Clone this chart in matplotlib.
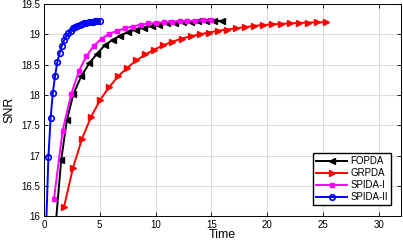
import matplotlib.pyplot as plt
from matplotlib.ticker import FuncFormatter

plt.rcParams['font.family'] = ['Liberation Sans', 'DejaVu Sans']

# SPIDA-II (blue, circles)
t_spida2 = [0.2, 0.4, 0.6, 0.8, 1.0, 1.2, 1.4, 1.6, 1.8, 2.0, 2.2, 2.4, 2.6,
            2.8, 3.0, 3.2, 3.4, 3.6, 3.8, 4.0, 4.2, 4.4, 4.6, 4.8, 5.0]
snr_spida2 = [15.83, 16.97, 17.62, 18.04, 18.32, 18.54, 18.69, 18.81, 18.90,
              18.97, 19.02, 19.06, 19.10, 19.12, 19.14, 19.16, 19.17, 19.18,
              19.19, 19.20, 19.205, 19.21, 19.215, 19.22, 19.22]

# SPIDA-I (magenta, squares)
t_spida1 = [0.9, 1.67, 2.45, 3.15, 3.8, 4.46, 5.16, 5.86, 6.56, 7.26, 7.96,
            8.66, 9.36, 10.06, 10.76, 11.46, 12.16, 12.86, 13.56, 14.26, 14.96]
snr_spida1 = [16.28, 17.41, 18.02, 18.40, 18.64, 18.81, 18.93, 19.01, 19.06,
              19.10, 19.13, 19.16, 19.18, 19.19, 19.20, 19.21, 19.215, 19.22,
              19.225, 19.23, 19.23]

# FOPDA (black, left triangles)
t_fopda = [1.05, 1.55, 2.05, 2.65, 3.35, 4.05, 4.75, 5.45, 6.15, 6.85, 7.55,
           8.25, 8.95, 9.65, 10.35, 11.05, 11.75, 12.45, 13.15, 13.85, 14.55,
           15.25, 15.95]
snr_fopda = [15.85, 16.93, 17.58, 18.02, 18.31, 18.52, 18.68, 18.82, 18.91,
             18.98, 19.04, 19.08, 19.11, 19.14, 19.16, 19.18, 19.19, 19.20,
             19.21, 19.215, 19.22, 19.22, 19.225]

# GRPDA (red, right triangles)
t_grpda = [1.80, 2.61, 3.42, 4.23, 5.04, 5.85, 6.66, 7.47, 8.28, 9.09, 9.90,
           10.71, 11.52, 12.33, 13.14, 13.95, 14.76, 15.57, 16.38, 17.19,
           18.00, 18.81, 19.62, 20.43, 21.24, 22.05, 22.86, 23.67, 24.48, 25.29]
snr_grpda = [16.15, 16.80, 17.28, 17.64, 17.92, 18.13, 18.31, 18.45, 18.57,
             18.67, 18.75, 18.82, 18.88, 18.93, 18.97, 19.00, 19.03, 19.06,
             19.08, 19.10, 19.12, 19.14, 19.155, 19.165, 19.175, 19.18, 19.19,
             19.195, 19.20, 19.20]

fig = plt.figure(figsize=(4.03, 2.42), dpi=100)
ax = fig.add_axes([0.109, 0.107, 0.886, 0.876])

ms = 4
ax.plot(t_fopda, snr_fopda, color='black', marker='<', ms=ms, lw=1.4, label='FOPDA')
ax.plot(t_grpda, snr_grpda, color='red', marker='>', ms=ms, lw=1.4, label='GRPDA')
ax.plot(t_spida1, snr_spida1, color='magenta', marker='s', ms=ms - 0.5, lw=1.4,
        label='SPIDA-I')
ax.plot(t_spida2, snr_spida2, color='blue', marker='o', ms=ms, lw=1.4,
        mfc='none', mew=1.2, label='SPIDA-II')

ax.set_xlim(0, 32)
ax.set_ylim(16, 19.5)
ax.set_xticks([0, 5, 10, 15, 20, 25, 30])
ax.set_yticks([16, 16.5, 17, 17.5, 18, 18.5, 19, 19.5])
ax.yaxis.set_major_formatter(FuncFormatter(lambda v, p: f'{v:g}'))
ax.grid(True, color='#dddddd', lw=0.8)
ax.set_axisbelow(True)
ax.tick_params(direction='in', top=True, right=True, labelsize=7, length=3,
               width=0.6, pad=3)
for s in ax.spines.values():
    s.set_linewidth(0.7)
ax.set_xlabel('Time', fontsize=9, labelpad=-1)
ax.set_ylabel('SNR', fontsize=9, labelpad=4)

ax.legend(loc='lower right', fontsize=7, handlelength=3.2, borderpad=0.3,
          labelspacing=0.2, handletextpad=0.3, fancybox=False,
          edgecolor='black', framealpha=1, bbox_to_anchor=(0.985, 0.03))

fig.savefig('out.png', dpi=100)
